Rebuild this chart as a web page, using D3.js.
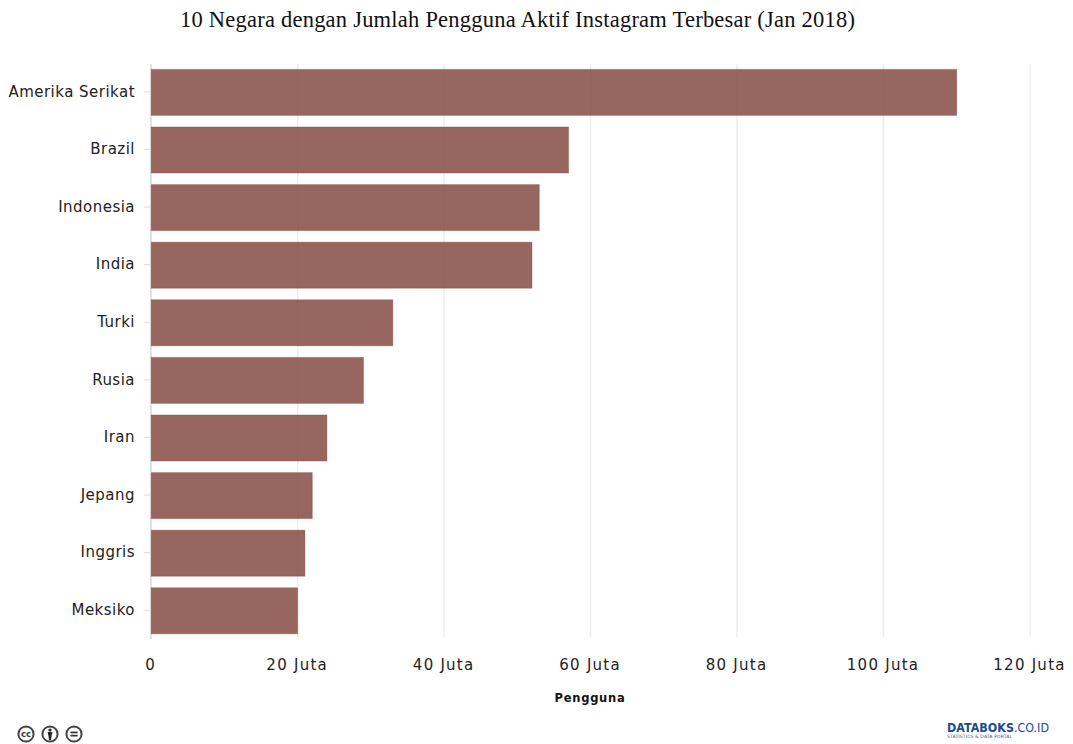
<!DOCTYPE html>
<html><head><meta charset="utf-8">
<script src="https://cdn.jsdelivr.net/npm/d3@7"></script>
<style>html,body{margin:0;padding:0;background:#fff}svg{display:block}</style>
</head><body><svg id="c" width="1073" height="744"></svg>
<script>
const countries = ["Amerika Serikat","Brazil","Indonesia","India","Turki","Rusia","Iran","Jepang","Inggris","Meksiko"];
const users = [110,57,53,52,33,29,24,22,21,20];
const xTicks = [0,20,40,60,80,100,120];
const titleText = "10 Negara dengan Jumlah Pengguna Aktif Instagram Terbesar (Jan 2018)";
const axisTitle = "Pengguna";

const svg = d3.select("#c");
const x = d3.scaleLinear().domain([0,120]).range([151.2,1030]);
const y = d3.scaleBand().domain(countries).range([63.6,639.6]).paddingInner(0.2).paddingOuter(0.1);
const sans = "'DejaVu Sans',Verdana,sans-serif";

svg.append("text").attr("x",517.5).attr("y",27).attr("text-anchor","middle")
  .attr("font-family","'Liberation Serif',serif").attr("font-size",22.5).attr("fill","#111")
  .attr("textLength",675).attr("lengthAdjust","spacing").text(titleText);

svg.append("g").selectAll("line").data(xTicks.slice(1)).join("line")
  .attr("x1",d=>x(d)).attr("x2",d=>x(d)).attr("y1",64).attr("y2",637)
  .attr("stroke","#eeeeee").attr("stroke-width",1.5);
svg.append("line").attr("x1",151).attr("x2",151).attr("y1",64).attr("y2",639).attr("stroke","#e2e2e2").attr("stroke-width",2);

const yAxis = d3.axisLeft(y).tickSize(6).tickPadding(9);
const gy = svg.append("g").attr("transform","translate(150,-0.6)").call(yAxis);
gy.select(".domain").remove();
gy.selectAll("line").attr("stroke","#ddd");
gy.selectAll("text").attr("font-family",sans).attr("font-size",15).attr("letter-spacing",0.48).attr("fill","#222");

svg.append("g").selectAll("rect").data(countries).join("rect")
  .attr("x",x(0)).attr("y",d=>y(d)).attr("width",(d,i)=>x(users[i])-x(0)).attr("height",y.bandwidth())
  .attr("fill","rgb(128,68,58)").attr("fill-opacity",0.82)
  .attr("stroke","rgb(128,68,58)").attr("stroke-opacity",0.3).attr("stroke-width",1);

const xAxis = d3.axisBottom(x).tickValues(xTicks).tickSize(0).tickPadding(22).tickFormat(d=>d===0?"0":d+" Juta");
const gx = svg.append("g").attr("transform","translate(-1,637)").call(xAxis);
gx.select(".domain").remove();
gx.selectAll("text").attr("font-family",sans).attr("font-size",15).attr("letter-spacing",1.25).attr("fill","#222");

svg.append("text").attr("x",590).attr("y",702).attr("text-anchor","middle")
  .attr("font-family",sans).attr("font-size",11.5).attr("letter-spacing",0.75).attr("font-weight","bold").attr("fill","#111").text(axisTitle);

// licence badges
const badges = ["cc","by","nd"];
const bx = d3.scalePoint().domain(badges).range([26,74]);
const b = svg.append("g").selectAll("g").data(badges).join("g").attr("transform",d=>`translate(${bx(d)},734)`);
b.append("circle").attr("r",7.6).attr("fill","#fff").attr("stroke","#444").attr("stroke-width",2);
b.filter(d=>d==="cc").append("text").attr("text-anchor","middle").attr("y",3).attr("font-family",sans).attr("font-weight","bold")
  .attr("font-size",8.5).attr("fill","#333").text("cc");
const by = b.filter(d=>d==="by");
by.append("circle").attr("cy",-4).attr("r",1.6).attr("fill","#222");
by.append("path").attr("d",d3.line()([[-2.5,-2],[2.5,-2],[1.5,2],[1,6],[-1,6],[-1.5,2]])).attr("fill","#222");
const nd = b.filter(d=>d==="nd");
nd.selectAll("rect").data([-2.4,0.8]).join("rect").attr("x",-3.6).attr("y",d=>d).attr("width",7.2).attr("height",1.7).attr("fill","#333");

// logo
svg.append("text").attr("x",947).attr("y",731.5).attr("font-family",sans).attr("font-size",11.5).attr("fill","#1b4a8f")
  .attr("font-weight","bold").attr("textLength",102).attr("lengthAdjust","spacingAndGlyphs")
  .html('DATABOKS<tspan font-weight="normal">.CO.ID</tspan>');
svg.append("text").attr("x",947).attr("y",737.5).attr("font-family",sans).attr("font-size",4.5).attr("fill","#1b4a8f")
  .attr("textLength",65).text("STATISTICS & DATA PORTAL");
</script></body></html>
